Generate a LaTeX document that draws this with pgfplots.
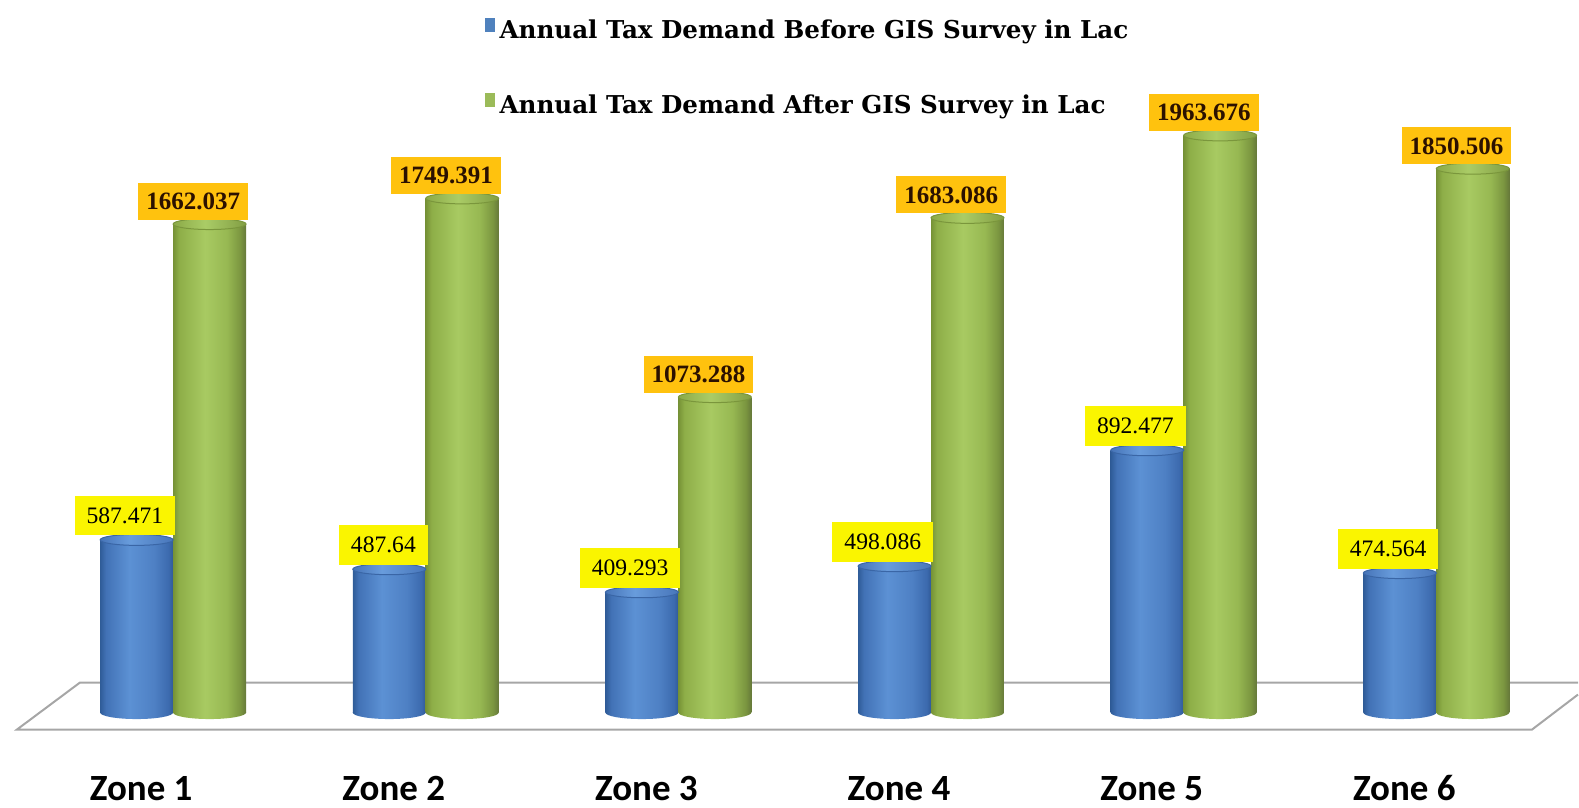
\documentclass[border=0pt]{standalone}
\usepackage{pgfplots}
\usepackage{pgfplotstable}
\pgfplotsset{compat=1.18}
\usepackage{fontspec}
\setmainfont{Liberation Serif}
\newfontfamily\legfont{DejaVu Serif}
\newfontfamily\zonefont{Carlito}

\definecolor{labY}{HTML}{FAF500}
\definecolor{labO}{HTML}{FFC20E}
\definecolor{labTxt}{HTML}{2B1100}
\definecolor{legB}{HTML}{4F81BD}
\definecolor{legG}{HTML}{9BBB59}
\definecolor{bEdge}{HTML}{3A66A6}
\definecolor{gEdge}{HTML}{7A963C}
\definecolor{floorC}{HTML}{A6A6A6}

\pgfdeclarehorizontalshading{bluecyl}{100bp}{%
  color(0bp)=(rgb,255:red,47;green,92;blue,152);
  color(25bp)=(rgb,255:red,47;green,92;blue,152);
  color(29bp)=(rgb,255:red,66;green,114;blue,182);
  color(45bp)=(rgb,255:red,92;green,145;blue,212);
  color(62bp)=(rgb,255:red,78;green,128;blue,196);
  color(72bp)=(rgb,255:red,60;green,106;blue,174);
  color(75bp)=(rgb,255:red,48;green,90;blue,150);
  color(100bp)=(rgb,255:red,48;green,90;blue,150)}
\pgfdeclarehorizontalshading{greencyl}{100bp}{%
  color(0bp)=(rgb,255:red,118;green,146;blue,54);
  color(25bp)=(rgb,255:red,118;green,146;blue,54);
  color(29bp)=(rgb,255:red,142;green,174;blue,72);
  color(47bp)=(rgb,255:red,168;green,202;blue,98);
  color(62bp)=(rgb,255:red,151;green,184;blue,82);
  color(71bp)=(rgb,255:red,123;green,150;blue,64);
  color(75bp)=(rgb,255:red,102;green,121;blue,58);
  color(100bp)=(rgb,255:red,102;green,121;blue,58)}
\pgfdeclarehorizontalshading{bluetop}{100bp}{%
  color(0bp)=(rgb,255:red,70;green,116;blue,184);
  color(25bp)=(rgb,255:red,70;green,116;blue,184);
  color(45bp)=(rgb,255:red,104;green,156;blue,220);
  color(75bp)=(rgb,255:red,72;green,118;blue,186);
  color(100bp)=(rgb,255:red,72;green,118;blue,186)}
\pgfdeclarehorizontalshading{greentop}{100bp}{%
  color(0bp)=(rgb,255:red,140;green,170;blue,72);
  color(25bp)=(rgb,255:red,140;green,170;blue,72);
  color(47bp)=(rgb,255:red,170;green,204;blue,102);
  color(75bp)=(rgb,255:red,130;green,158;blue,68);
  color(100bp)=(rgb,255:red,130;green,158;blue,68)}

\pgfdeclareplotmark{botB}{\pgfpathellipse{\pgfpointorigin}{\pgfqpoint{18.25pt}{0pt}}{\pgfqpoint{0pt}{3.25pt}}\pgfshadepath{bluecyl}{0}\pgfusepath{discard}}
\pgfdeclareplotmark{botG}{\pgfpathellipse{\pgfpointorigin}{\pgfqpoint{18.25pt}{0pt}}{\pgfqpoint{0pt}{3.25pt}}\pgfshadepath{greencyl}{0}\pgfusepath{discard}}
\pgfdeclareplotmark{topB}{\pgfpathellipse{\pgfpointorigin}{\pgfqpoint{18.25pt}{0pt}}{\pgfqpoint{0pt}{2.75pt}}\pgfshadepath{bluetop}{0}\pgfusepath{stroke}}
\pgfdeclareplotmark{topG}{\pgfpathellipse{\pgfpointorigin}{\pgfqpoint{18.25pt}{0pt}}{\pgfqpoint{0pt}{2.75pt}}\pgfshadepath{greentop}{0}\pgfusepath{stroke}}

\pgfplotstableread{
zone xb xg before after
1 0.8556 1.1444 587.471 1662.037
2 1.8556 2.1444 487.64 1749.391
3 2.8556 3.1444 409.293 1073.288
4 3.8556 4.1444 498.086 1683.086
5 4.8556 5.1444 892.477 1963.676
6 5.8556 6.1444 474.564 1850.506
}\datatable

\begin{document}
\begin{tikzpicture}
\begin{axis}[
  scale only axis,
  width=789.5pt, height=403pt,
  xmin=0.3149, xmax=6.5609,
  ymin=-316.2, ymax=2424.3,
  axis line style={draw=none},
  tick style={draw=none},
  ytick=\empty,
  xtick={1,2,3,4,5,6},
  xticklabels={Zone 1,Zone 2,Zone 3,Zone 4,Zone 5,Zone 6},
  xticklabel style={font=\zonefont\bfseries\fontsize{18.5}{21}\selectfont, anchor=base, yshift=2.5pt, xshift=-16pt},
  clip=false,
  legend cell align=left,
  legend style={at={(rel axis cs:0.3072,0.978)}, anchor=north west, draw=none, fill=none,
    inner sep=0pt, outer sep=0pt, row sep=24.5pt, column sep=2.5pt,
    nodes={inner sep=0pt, text height=9pt, text depth=3pt},
    font=\legfont\bfseries\fontsize{12.3}{14}\selectfont},
]
% floor
\draw[floorC, line width=1pt] (axis cs:6.5609,102.0) -- (axis cs:0.6313,102.0) -- (axis cs:0.3821,-57.8) -- (axis cs:6.379,-57.8) -- (axis cs:6.5609,61.2);

\addlegendimage{legend image code/.code={\fill[legB] (0pt,0.5pt) rectangle (4.5pt,7pt);}}
\addlegendentry{Annual Tax Demand Before GIS Survey in Lac}
\addlegendimage{legend image code/.code={\fill[legG] (0pt,0.5pt) rectangle (4.5pt,7pt);}}
\addlegendentry{Annual Tax Demand After GIS Survey in Lac}

% bottoms
\addplot[only marks, mark=botB, forget plot] table[x=xb, y expr=0]{\datatable};
\addplot[only marks, mark=botG, forget plot] table[x=xg, y expr=0]{\datatable};
% bars
\pgfplotsinvokeforeach{0,...,5}{
  \addplot[ybar, bar width=0.2888, bar shift=0pt, draw=none, shade, shading=bluecyl, forget plot,
    x filter/.expression={abs(\coordindex-#1)<0.5 ? x : nan}] table[x=xb, y=before]{\datatable};
  \addplot[ybar, bar width=0.2888, bar shift=0pt, draw=none, shade, shading=greencyl, forget plot,
    x filter/.expression={abs(\coordindex-#1)<0.5 ? x : nan}] table[x=xg, y=after]{\datatable};
}
% tops
\addplot[only marks, mark=topB, mark options={draw=bEdge, line width=0.5pt}, forget plot] table[x=xb, y=before]{\datatable};
\addplot[only marks, mark=topG, mark options={draw=gEdge, line width=0.5pt}, forget plot] table[x=xg, y=after]{\datatable};
% labels
\addplot[draw=none, mark=none, forget plot, nodes near coords, point meta=explicit symbolic,
  nodes near coords style={anchor=south east, xshift=19.5pt, yshift=2pt, fill=labY, text=black,
    font=\fontsize{11.8}{13}\selectfont, inner xsep=6pt, inner ysep=0pt, minimum height=20pt,
    text height=8pt, text depth=0pt}]
  table[x=xb, y=before, meta=before]{\datatable};
\addplot[draw=none, mark=none, forget plot, nodes near coords, point meta=explicit symbolic,
  nodes near coords style={anchor=south east, xshift=19.5pt, yshift=2pt, fill=labO, text=labTxt,
    font=\bfseries\fontsize{12.5}{14}\selectfont, inner xsep=4pt, inner ysep=0pt, minimum height=18.5pt,
    text height=8.5pt, text depth=0pt}]
  table[x=xg, y=after, meta=after]{\datatable};
\end{axis}
\end{tikzpicture}
\end{document}
